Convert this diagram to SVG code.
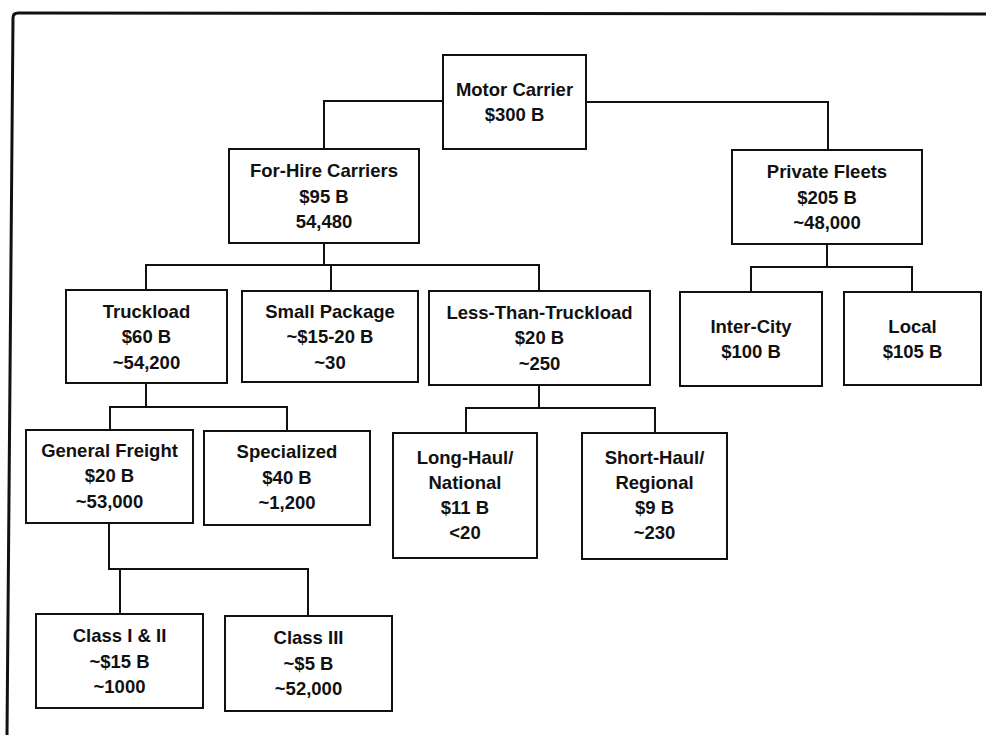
<svg xmlns="http://www.w3.org/2000/svg" width="986" height="735" viewBox="0 0 986 735">
<style>
.bx{fill:#fff;stroke:#111;stroke-width:2}
.cn{fill:none;stroke:#111;stroke-width:2}
.fr{fill:none;stroke:#111;stroke-width:3}
text{font-family:"Liberation Sans",Arial,sans-serif;font-weight:bold;font-size:18.5px;fill:#111;text-anchor:middle}
</style>
<rect width="986" height="735" fill="#fff"/>
<path class="fr" d="M7 735 L13 18 Q13 13 18 13 L986 14"/>
<g id="connectors">
<path class="cn" d="M443 101 H324 V149"/>
<path class="cn" d="M586 102 H828 V150"/>
<path class="cn" d="M324 243 V265 M146 290 V265 H539 V291 M331 265 V291"/>
<path class="cn" d="M827 244 V267 M751 292 V267 H912 V292"/>
<path class="cn" d="M146 383 V407 M110 430 V407 H287 V431"/>
<path class="cn" d="M539 385 V408 M466 433 V408 H655 V433"/>
<path class="cn" d="M109 523 V569 H308 V616 M120 569 V614"/>
</g>
<g id="motor-carrier"><rect class="bx" x="443" y="55" width="143" height="94"/><text x="514.5" y="96">Motor Carrier</text><text x="514.5" y="121">$300 B</text></g>
<g id="for-hire"><rect class="bx" x="229" y="149" width="190" height="94"/><text x="324" y="177">For-Hire Carriers</text><text x="324" y="202.5">$95 B</text><text x="324" y="228">54,480</text></g>
<g id="private-fleets"><rect class="bx" x="732" y="150" width="190" height="94"/><text x="827" y="178">Private Fleets</text><text x="827" y="203.5">$205 B</text><text x="827" y="229">~48,000</text></g>
<g id="truckload"><rect class="bx" x="66" y="290" width="161" height="93"/><text x="146.5" y="317.5">Truckload</text><text x="146.5" y="343">$60 B</text><text x="146.5" y="368.5">~54,200</text></g>
<g id="small-package"><rect class="bx" x="242" y="291" width="176" height="91"/><text x="330" y="317.5">Small Package</text><text x="330" y="343">~$15-20 B</text><text x="330" y="368.5">~30</text></g>
<g id="ltl"><rect class="bx" x="429" y="291" width="221" height="94"/><text x="539.5" y="318.5">Less-Than-Truckload</text><text x="539.5" y="344">$20 B</text><text x="539.5" y="369.5">~250</text></g>
<g id="inter-city"><rect class="bx" x="680" y="292" width="142" height="94"/><text x="751" y="332.5">Inter-City</text><text x="751" y="357.5">$100 B</text></g>
<g id="local"><rect class="bx" x="844" y="292" width="137" height="93"/><text x="912.5" y="332.5">Local</text><text x="912.5" y="357.5">$105 B</text></g>
<g id="general-freight"><rect class="bx" x="26" y="430" width="167" height="93"/><text x="109.5" y="456.5">General Freight</text><text x="109.5" y="482">$20 B</text><text x="109.5" y="507.5">~53,000</text></g>
<g id="specialized"><rect class="bx" x="204" y="431" width="166" height="94"/><text x="287" y="458">Specialized</text><text x="287" y="483.5">$40 B</text><text x="287" y="509">~1,200</text></g>
<g id="long-haul"><rect class="bx" x="393" y="433" width="144" height="125"/><text x="465" y="463.5">Long-Haul/</text><text x="465" y="488.5">National</text><text x="465" y="513.5">$11 B</text><text x="465" y="538.5">&lt;20</text></g>
<g id="short-haul"><rect class="bx" x="582" y="433" width="145" height="126"/><text x="654.5" y="464">Short-Haul/</text><text x="654.5" y="489">Regional</text><text x="654.5" y="514">$9 B</text><text x="654.5" y="539">~230</text></g>
<g id="class-1-2"><rect class="bx" x="36" y="614" width="167" height="94"/><text x="119.5" y="642">Class I &amp; II</text><text x="119.5" y="667.5">~$15 B</text><text x="119.5" y="693">~1000</text></g>
<g id="class-3"><rect class="bx" x="225" y="616" width="167" height="95"/><text x="308.5" y="644">Class III</text><text x="308.5" y="669.5">~$5 B</text><text x="308.5" y="695">~52,000</text></g>
</svg>
